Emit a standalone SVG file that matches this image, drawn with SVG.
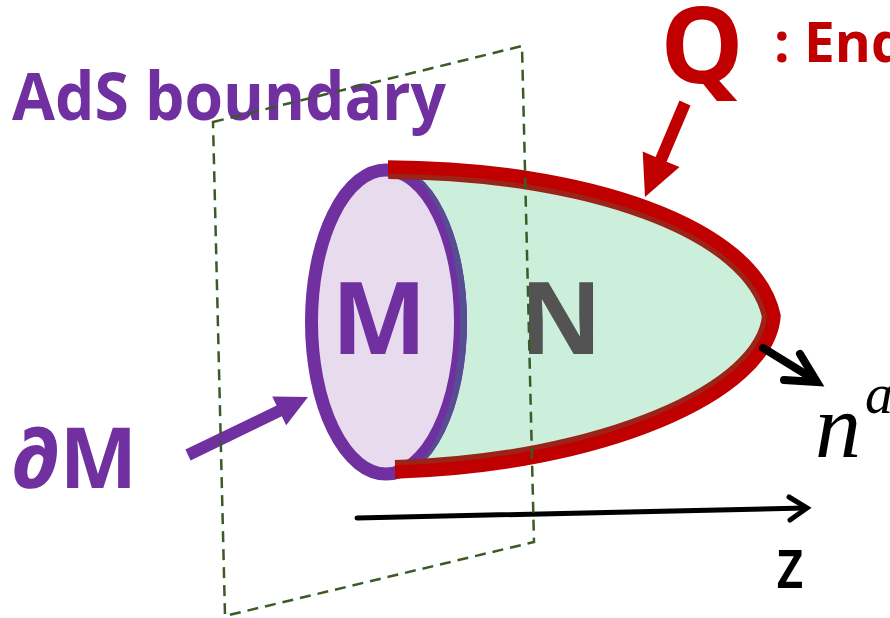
<svg xmlns="http://www.w3.org/2000/svg" width="890" height="618" viewBox="0 0 890 618">
<style>
.lbl{font-family:"Open Sans","Liberation Sans",sans-serif;font-weight:700}
.purple{fill:#7030A0}
.dash{fill:none;stroke:#3B5A25;stroke-width:2.5;stroke-dasharray:11 7}
</style>
<defs>
<clipPath id="nclip"><path d="M388,167 C585,168 755,225 774,316 C768,395 600,466 395,472 Z"/></clipPath>
</defs>
<rect width="890" height="618" fill="#ffffff"/>
<g id="N">
<path d="M388,167 C585,168 755,225 774,316 C768,395 600,466 395,472 Z" fill="#CCEFDB"/>
<text class="lbl" x="561" y="354" font-size="101" fill="#535353" text-anchor="middle">N</text>
</g>
<g id="M">
<ellipse cx="386" cy="322" rx="74.5" ry="152" fill="#E7DBED" stroke="#7030A0" stroke-width="13"/>
<path d="M386,163.5 A81,158.5 0 0 1 386,480.5 A74,158.5 0 0 0 386,163.5 Z" fill="#584C94"/>
<text class="lbl purple" x="379" y="354" font-size="101" text-anchor="middle">M</text>
</g>
<g id="Q">
<path d="M388,167 C585,168 755,225 774,316 C768,395 600,466 395,472" fill="none" stroke="#9B2317" stroke-width="24" clip-path="url(#nclip)"/>
<path d="M388,167 C585,168 755,225 774,316 C768,395 600,466 395,472" fill="none" stroke="#C00000" stroke-width="13.5"/>
<text class="lbl" x="702" y="83" font-size="105" fill="#C00000" text-anchor="middle">Q</text>
<text class="lbl" x="774" y="62" font-size="55" fill="#C00000">: End</text>
</g>
<g id="labels">
<text class="lbl purple" x="12" y="120" font-size="67" textLength="434" lengthAdjust="spacingAndGlyphs">AdS boundary</text>
<text class="lbl purple" x="12" y="488" font-size="85" textLength="125" lengthAdjust="spacingAndGlyphs">∂M</text>
<text x="815" y="457" font-family="Liberation Serif,serif" font-style="italic" font-size="92" fill="#000">n<tspan font-size="56" dy="-44" dx="4">a</tspan></text>
<text x="776" y="588" font-family="Open Sans,Liberation Sans,sans-serif" font-size="70" font-weight="600" fill="#000" textLength="28" lengthAdjust="spacingAndGlyphs">z</text>
</g>
<g id="connectors">
<polygon points="679.5,100.6 690.5,105.4 666.6,161.7 679.5,167.1 645,197 642.7,151.5 655.6,157" fill="#C00000"/>
<polygon points="185.4,449.6 276.6,405.5 272.2,396.5 308,397 286.2,425.3 281.8,416.3 190.6,460.4" fill="#7030A0"/>
<g fill="none" stroke="#000" stroke-linecap="round" stroke-linejoin="miter">
<line x1="763" y1="348" x2="815" y2="380" stroke-width="8"/>
<polyline points="800,354 817,382 784,380" stroke-width="8"/>
<line x1="357" y1="518" x2="805" y2="508" stroke-width="5"/>
<polyline points="789,497 807,508 790,520" stroke-width="5"/>
</g>
</g>
<g id="AdS-boundary">
<path class="dash" d="M213,122 L522,46 L534,542 L225,616 Z"/>
</g>
</svg>
